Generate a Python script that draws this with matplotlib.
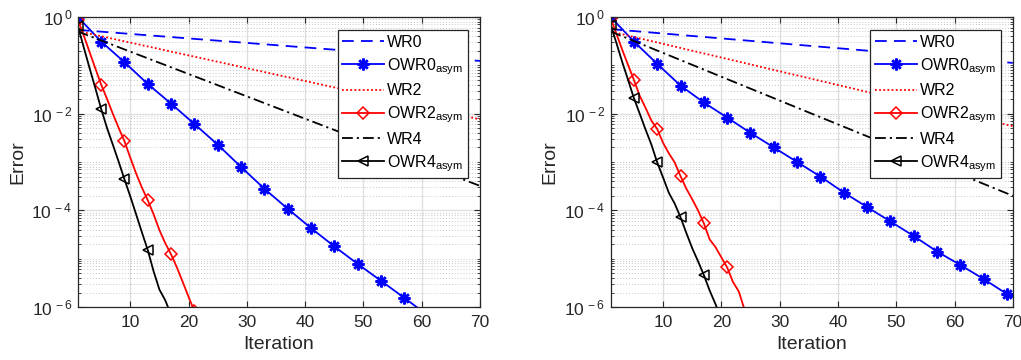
import numpy as np
import matplotlib
matplotlib.use("Agg")
import matplotlib.pyplot as plt
from matplotlib.ticker import LogLocator, NullFormatter, FixedLocator

plt.rcParams['font.family'] = ['Liberation Sans', 'DejaVu Sans']
plt.rcParams['mathtext.fontset'] = 'custom'
plt.rcParams['mathtext.rm'] = 'Liberation Sans'
plt.rcParams['mathtext.it'] = 'Liberation Sans:italic'

# ---- data ----
# plain WR runs: straight in log scale, given at first/last iteration
wr_iters = [1, 70]
wr0_left = [0.54, 0.123]
wr2_left = [0.51, 7.6e-3]
wr4_left = [0.50, 3.2e-4]
wr0_right = [0.56, 0.112]
wr2_right = [0.50, 5.5e-3]
wr4_right = [0.50, 2.0e-4]

# OWR0 asym, read at marker iterations
owr0_iters_left = [1, 5, 9, 13, 17, 21, 25, 29, 33, 37, 41, 45, 49, 53, 57, 61]
owr0_left = [1.0, 0.31, 0.116, 0.041, 0.0161, 6.1e-3, 2.28e-3, 7.9e-4, 2.8e-4,
             1.08e-4, 4.3e-5, 1.8e-5, 7.8e-6, 3.5e-6, 1.55e-6, 6.8e-7]
owr0_iters_right = [1, 5, 9, 13, 17, 21, 25, 29, 33, 37, 41, 45, 49, 53, 57, 61, 65, 69, 70]
owr0_right = [1.0, 0.31, 0.107, 0.038, 0.017, 8.3e-3, 4.0e-3, 2.0e-3, 1.0e-3, 5.0e-4,
              2.34e-4, 1.17e-4, 5.9e-5, 2.95e-5, 1.41e-5, 7.4e-6, 3.8e-6, 1.86e-6, 1.62e-6]

# OWR2 / OWR4 asym, read at every iteration
owr2_left = [0.87, 0.42, 0.19, 0.087, 0.040, 0.0204, 0.0100, 5.1e-3, 2.7e-3, 1.23e-3,
             5.8e-4, 2.95e-4, 1.62e-4, 8.3e-5, 3.9e-5, 2.1e-5, 1.23e-5, 6.6e-6, 3.3e-6,
             1.62e-6, 8.3e-7]
owr4_left = [0.65, 0.24, 0.089, 0.034, 0.0126, 5.1e-3, 2.3e-3, 1.02e-3, 4.4e-4, 1.95e-4,
             8.3e-5, 3.5e-5, 1.51e-5, 5.5e-6, 2.3e-6, 1.38e-6, 6.9e-7]
owr2_right = [0.95, 0.45, 0.21, 0.102, 0.050, 0.0234, 0.0132, 7.2e-3, 4.8e-3, 2.5e-3,
              1.51e-3, 9.8e-4, 5.1e-4, 2.8e-4, 1.7e-4, 1.0e-4, 5.4e-5, 2.5e-5, 1.74e-5,
              1.07e-5, 6.6e-6, 3.3e-6, 2.1e-6, 8.7e-7]
owr4_right = [0.69, 0.29, 0.117, 0.050, 0.021, 0.0100, 4.7e-3, 2.3e-3, 9.8e-4, 4.8e-4,
              2.3e-4, 1.38e-4, 7.2e-5, 3.4e-5, 1.66e-5, 8.9e-6, 4.6e-6, 2.2e-6, 1.15e-6,
              5.6e-7]

labels = ['WR0', r'OWR0$_{\mathregular{asym}}$', 'WR2', r'OWR2$_{\mathregular{asym}}$',
          'WR4', r'OWR4$_{\mathregular{asym}}$']
xticks = [10, 20, 30, 40, 50, 60, 70]
yticks = [1e-6, 1e-4, 1e-2, 1e0]
ytick_labels = [r'$10^{\,-6}$', r'$10^{\,-4}$', r'$10^{\,-2}$', r'$10^{\,0}$']

DARK = '#262626'
LW = 1.3


def draw(ax, wr0, wr2, wr4, it0, owr0, owr2, owr4):
    n_mark0 = len([i for i in it0 if (i - 1) % 4 == 0])
    ax.plot(wr_iters, wr0, color='b', linestyle=(0, (6.5, 4)), lw=LW, label=labels[0])
    ax.plot(it0, owr0, color='b', lw=LW, marker=(8, 2, 0), ms=8.5, mew=1.8,
            markevery=list(range(n_mark0)), label=labels[1])
    ax.plot(wr_iters, wr2, color='r', linestyle=(0, (1, 1.3)), lw=LW, label=labels[2])
    ax.plot(range(1, len(owr2) + 1), owr2, color='r', lw=LW, marker='D', ms=6,
            mfc='none', mew=1.1, markevery=4, label=labels[3])
    ax.plot(wr_iters, wr4, color='k', linestyle=(0, (6, 2.2, 1.2, 2.2)), lw=LW, label=labels[4])
    ax.plot(range(1, len(owr4) + 1), owr4, color='k', lw=LW, marker='<', ms=7,
            mfc='none', mew=1.1, markevery=4, label=labels[5])

    ax.set_yscale('log')
    ax.set_xlim(1, 70)
    ax.set_ylim(1e-6, 1)
    ax.set_xticks(xticks)
    ax.yaxis.set_major_locator(FixedLocator(yticks))
    ax.set_yticklabels(ytick_labels)
    ax.yaxis.set_minor_locator(LogLocator(base=10, subs=np.arange(1, 10), numticks=30))
    ax.yaxis.set_minor_formatter(NullFormatter())

    ax.grid(True, which='major', axis='both', color='#dedede', lw=0.9, linestyle='-')
    ax.grid(True, which='minor', axis='y', color='#c8c8c8', lw=0.7, linestyle=(0, (1, 2)))
    ax.set_axisbelow(True)

    ax.tick_params(which='both', direction='in', top=True, right=True, colors=DARK,
                   labelsize=12.5, pad=4)
    ax.tick_params(axis='x', which='major', pad=6)
    ax.tick_params(which='major', length=4, width=0.8)
    ax.tick_params(which='minor', length=2, width=0.6)
    for s in ax.spines.values():
        s.set_color(DARK)
        s.set_linewidth(0.9)

    ax.set_xlabel('Iteration', fontsize=14, color=DARK, labelpad=4)
    ax.set_ylabel('Error', fontsize=14, color=DARK, labelpad=4)

    leg = ax.legend(loc='upper right', bbox_to_anchor=(0.97, 0.955), fontsize=11.5,
                    fancybox=False, framealpha=1, edgecolor=DARK, handlelength=2.6,
                    handletextpad=0.2, labelspacing=0.4, borderpad=0.3,
                    borderaxespad=0)
    leg.get_frame().set_linewidth(0.9)


fig = plt.figure(figsize=(10.21, 3.6), dpi=100)
ax1 = fig.add_axes([0.0762, 0.147, 0.394, 0.806])
ax2 = fig.add_axes([0.598, 0.147, 0.394, 0.806])

draw(ax1, wr0_left, wr2_left, wr4_left, owr0_iters_left, owr0_left, owr2_left, owr4_left)
draw(ax2, wr0_right, wr2_right, wr4_right, owr0_iters_right, owr0_right, owr2_right, owr4_right)

fig.savefig('out.png', dpi=100)
